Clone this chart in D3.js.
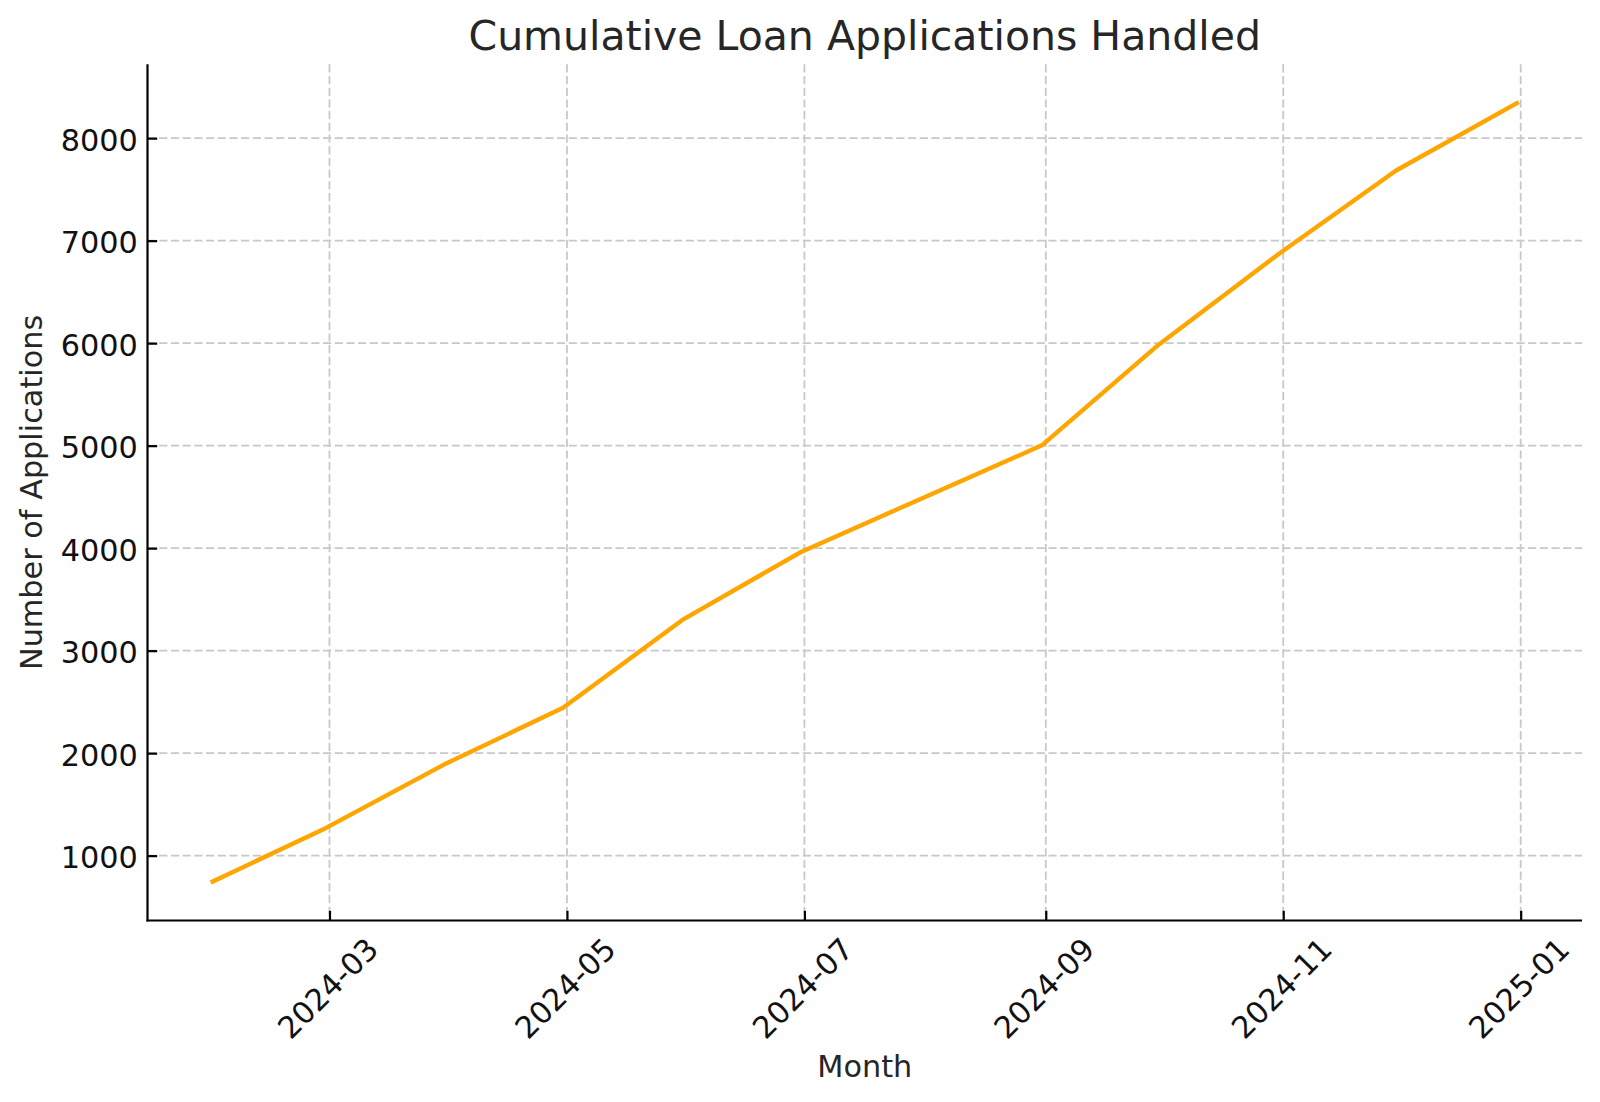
<!DOCTYPE html>
<html>
<head>
<meta charset="utf-8">
<script src="https://cdn.jsdelivr.net/npm/d3@7"></script>
<style>
  html, body { margin: 0; padding: 0; background: #fff; }
  svg { display: block; font-family: "DejaVu Sans", sans-serif; }
</style>
</head>
<body>
<svg id="chart" width="1600" height="1102"></svg>
<script>
// ---- data ----
const months = ["2024-01-31","2024-02-29","2024-03-31","2024-04-30","2024-05-31","2024-06-30",
                "2024-07-31","2024-08-31","2024-09-30","2024-10-31","2024-11-30","2024-12-31"];
const applications = [747, 1268, 1900, 2442, 3308, 3960, 4483, 5003, 5985, 6875, 7685, 8341];
const xTickLabels = ["2024-03","2024-05","2024-07","2024-09","2024-11","2025-01"];
const yTickValues = [1000, 2000, 3000, 4000, 5000, 6000, 7000, 8000];
const titleText = "Cumulative Loan Applications Handled";
const xLabelText = "Month";
const yLabelText = "Number of Applications";

// ---- layout ----
const W = 1600, H = 1102;
const plot = { left: 147.5, right: 1582, top: 64.3, bottom: 920.5 };
const parse = d3.utcParse("%Y-%m-%d");
const parseM = d3.utcParse("%Y-%m");
const dates = months.map(parse);
const data = dates.map((d, i) => ({ date: d, value: applications[i] }));

// matplotlib-like 5% margins
const [dMin, dMax] = d3.extent(dates);
const dSpan = dMax - dMin;
const [vMin, vMax] = d3.extent(applications);
const vSpan = vMax - vMin;

const x = d3.scaleUtc()
  .domain([new Date(+dMin - 0.05 * dSpan), new Date(+dMax + 0.05 * dSpan)])
  .range([plot.left, plot.right]);
const y = d3.scaleLinear()
  .domain([vMin - 0.05 * vSpan, vMax + 0.05 * vSpan])
  .range([plot.bottom, plot.top]);

const xTicks = xTickLabels.map(parseM);

const svg = d3.select("#chart");
const FS = 30.3;
const gridColor = "#c8c8c8";

// ---- grid ----
const grid = svg.append("g");
grid.selectAll("line.gx").data(xTicks).join("line")
  .attr("x1", d => x(d)).attr("x2", d => x(d))
  .attr("y1", plot.top).attr("y2", plot.bottom)
  .attr("stroke", gridColor).attr("stroke-width", 1.8)
  .attr("stroke-dasharray", "8.2 3.5");
grid.selectAll("line.gy").data(yTickValues).join("line")
  .attr("x1", plot.left).attr("x2", plot.right)
  .attr("y1", d => y(d)).attr("y2", d => y(d))
  .attr("stroke", gridColor).attr("stroke-width", 1.8)
  .attr("stroke-dasharray", "8.2 3.5");

// ---- line ----
const line = d3.line().x(d => x(d.date)).y(d => y(d.value));
svg.append("path").datum(data)
  .attr("d", line)
  .attr("fill", "none")
  .attr("stroke", "#FFA500")
  .attr("stroke-width", 4.4)
  .attr("stroke-linejoin", "round")
  .attr("stroke-linecap", "square");

// ---- axes (ticks inward) ----
const tickLen = 9.7, pad = 9.7, xPad = 14.2;
const xAxis = d3.axisBottom(x).tickValues(xTicks).tickSizeInner(-tickLen).tickSizeOuter(0).tickFormat("");
const gx = svg.append("g").attr("transform", `translate(0,${plot.bottom})`).call(xAxis);
gx.select(".domain").remove();
gx.selectAll(".tick line").attr("stroke", "#000").attr("stroke-width", 2.2);

const yAxis = d3.axisLeft(y).tickValues(yTickValues).tickSizeInner(-tickLen).tickSizeOuter(0).tickFormat("");
const gy = svg.append("g").attr("transform", `translate(${plot.left},0)`).call(yAxis);
gy.select(".domain").remove();
gy.selectAll(".tick line").attr("stroke", "#000").attr("stroke-width", 2.2);

// spines (left + bottom)
svg.append("line").attr("x1", plot.left).attr("x2", plot.left)
  .attr("y1", plot.top).attr("y2", plot.bottom + 1.1)
  .attr("stroke", "#000").attr("stroke-width", 2.2);
svg.append("line").attr("x1", plot.left - 1.1).attr("x2", plot.right)
  .attr("y1", plot.bottom).attr("y2", plot.bottom)
  .attr("stroke", "#000").attr("stroke-width", 2.2);

// y tick labels
svg.append("g").selectAll("text").data(yTickValues).join("text")
  .attr("x", plot.left - pad)
  .attr("y", d => y(d))
  .attr("dy", "0.42em")
  .attr("text-anchor", "end")
  .attr("font-size", FS)
  .attr("fill", "#111")
  .text(d => d3.format("d")(d));

// x tick labels rotated 45°, matplotlib-style (bbox centered at tick, top at pad)
const Hbox = 0.968 * FS, desc = 0.208 * FS;
const xl = svg.append("g").selectAll("g").data(xTicks).join("g");
xl.append("text")
  .attr("text-anchor", "middle")
  .attr("font-size", FS)
  .attr("fill", "#111")
  .attr("y", Hbox / 2 - desc)
  .text(d => d3.utcFormat("%Y-%m")(d));
xl.each(function(d) {
  const t = d3.select(this).select("text").node();
  const w = t.getComputedTextLength();
  const cy = plot.bottom + xPad + (w + Hbox) / (2 * Math.SQRT2);
  d3.select(this).attr("transform", `translate(${x(d)},${cy}) rotate(-45)`);
});

// ---- titles ----
const cx = (plot.left + plot.right) / 2;
svg.append("text")
  .attr("x", cx).attr("y", 50)
  .attr("text-anchor", "middle")
  .attr("font-size", 41)
  .attr("fill", "#262626")
  .text(titleText);

svg.append("text")
  .attr("x", cx).attr("y", 1077)
  .attr("text-anchor", "middle")
  .attr("font-size", FS)
  .attr("fill", "#262626")
  .text(xLabelText);

svg.append("text")
  .attr("transform", `translate(41.7,${(plot.top + plot.bottom) / 2}) rotate(-90)`)
  .attr("text-anchor", "middle")
  .attr("font-size", FS)
  .attr("fill", "#262626")
  .text(yLabelText);
</script>
</body>
</html>
